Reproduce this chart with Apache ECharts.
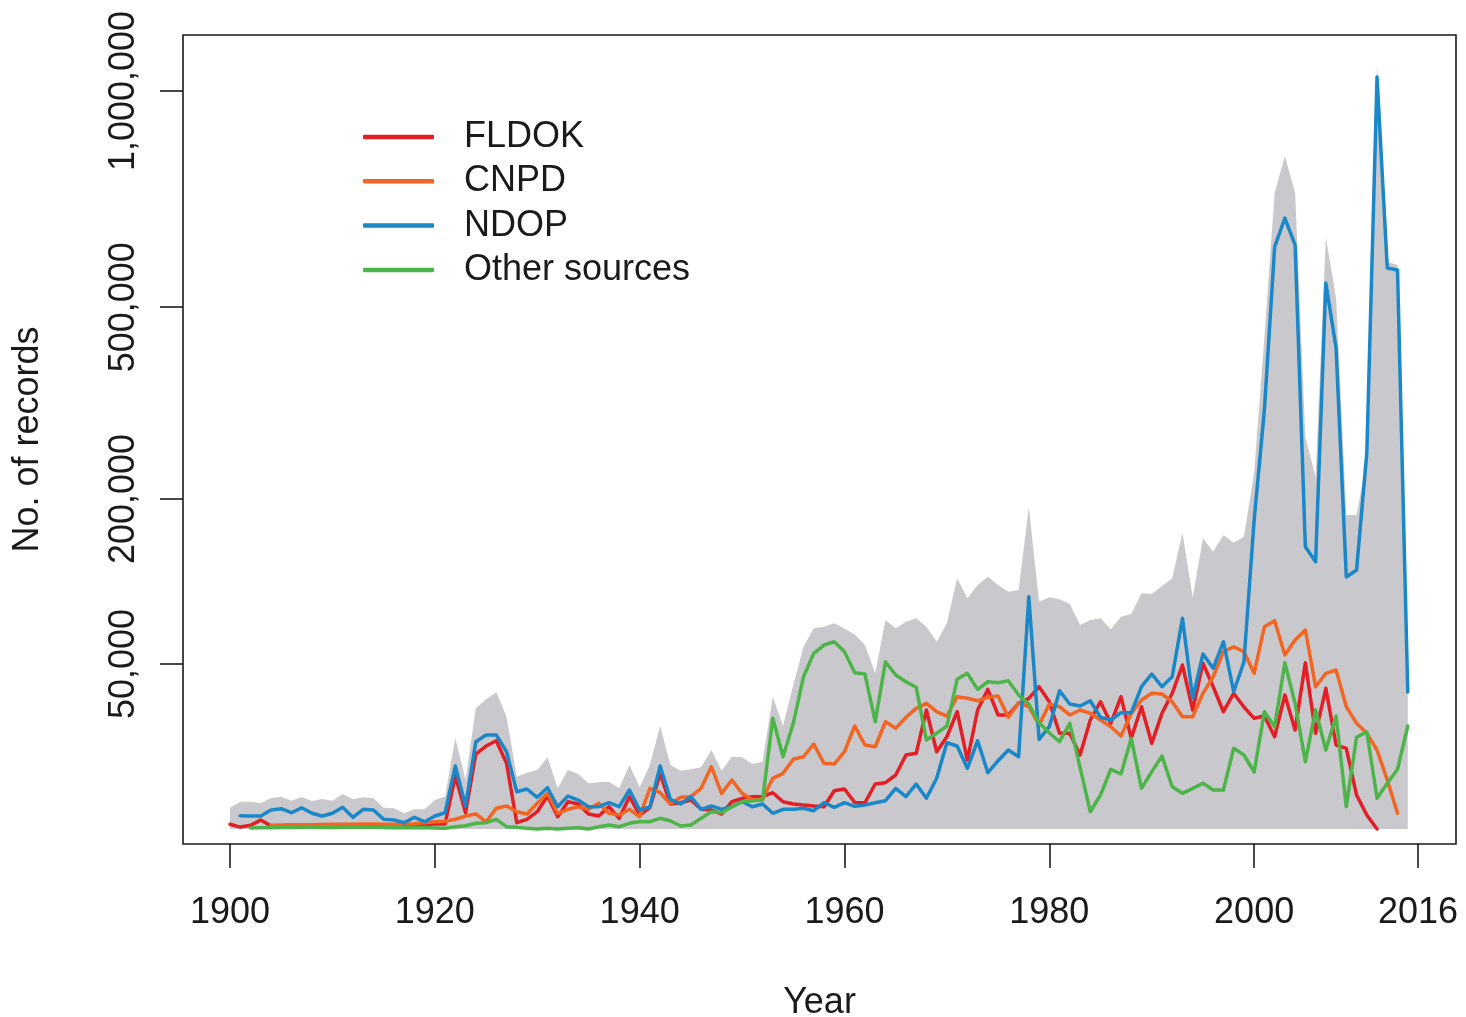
<!DOCTYPE html>
<html><head><meta charset="utf-8">
<script src="https://cdn.jsdelivr.net/npm/echarts@6/dist/echarts.min.js"></script>
<style>html,body{margin:0;padding:0;background:#fff}#c{width:1466px;height:1017px}</style>
</head><body><div id="c"></div>
<script>
const years = [1900,1901,1902,1903,1904,1905,1906,1907,1908,1909,1910,1911,1912,1913,1914,1915,1916,1917,1918,1919,
1920,1921,1922,1923,1924,1925,1926,1927,1928,1929,1930,1931,1932,1933,1934,1935,1936,1937,1938,1939,
1940,1941,1942,1943,1944,1945,1946,1947,1948,1949,1950,1951,1952,1953,1954,1955,1956,1957,1958,1959,
1960,1961,1962,1963,1964,1965,1966,1967,1968,1969,1970,1971,1972,1973,1974,1975,1976,1977,1978,1979,
1980,1981,1982,1983,1984,1985,1986,1987,1988,1989,1990,1991,1992,1993,1994,1995,1996,1997,1998,1999,
2000,2001,2002,2003,2004,2005,2006,2007,2008,2009,2010,2011,2012,2013,2014,2015];

const total = [833,1368,1368,1213,1764,1915,1470,1880,1439,1652,1470,2249,1619,1845,1730,833,787,453,713,713,
1544,1939,15204,4408,26747,30886,34309,23154,5022,5820,6391,9439,3041,6391,5554,3834,4004,4107,3041,7520,
3239,7520,19478,7520,6240,6544,6989,11458,6240,9597,9439,7757,8316,32136,19478,38071,61016,73955,75139,77685,
73660,69456,62160,44509,80198,73955,78899,81508,75139,64409,77685,115393,97716,109308,116871,109308,103387,104874,190009,94857,
98566,96871,92948,76407,80198,81508,73220,82750,84869,101997,101393,108414,115393,161190,98566,155153,141180,158696,150493,156866,
232687,444430,742655,831578,742655,282127,227488,643452,517680,181022,181022,249992,1071666,590254,584024,54316];

const fldok = [41,7,25,149,17,18,15,18,16,17,15,17,16,18,17,15,14,16,20,34,
50,45,5157,488,10328,12648,14315,7925,73,173,550,1999,278,1368,1148,413,310,913,210,1915,
360,849,5554,1148,1270,1544,713,663,413,1368,1730,1915,1915,2419,1368,1148,1058,971,913,2693,
2938,1289,1270,3718,3936,5354,10054,10521,26000,10971,15641,25262,8741,26000,35831,23861,23861,29010,31364,37178,
29753,16815,16815,10054,21814,29753,20512,32136,15104,27461,13484,24577,33808,49381,26000,50409,37178,25262,33808,27327,
22499,23444,15641,32967,17995,50777,16815,36346,12955,11957,2122,360,0,null,null,null];

const cnpd = [null,null,null,null,25,30,32,35,35,38,40,40,42,45,45,42,40,45,50,70,
100,110,173,310,413,98,787,971,550,413,1213,2340,453,713,913,713,1213,453,360,713,
278,3041,2419,1148,1845,1915,3041,7126,2340,4408,2340,1544,1619,4719,5696,8919,9597,13265,7925,7757,
10971,19478,12955,12436,21138,18618,22908,26747,29010,25262,23444,32136,31364,30222,31846,32477,22908,29288,27461,19858,
28688,27461,23861,26000,24577,21814,19214,15880,24577,30553,33808,33461,29753,23154,23154,33808,42586,57715,61016,57715,
44509,75139,79663,55587,65584,72708,37178,44509,46415,27461,20512,16815,11458,4408,453,null];

const ndop = [null,325,310,310,663,757,488,833,453,310,453,865,251,713,663,173,149,73,251,98,
310,488,7287,971,13993,16223,16223,10971,2554,2938,1845,3132,913,1999,1544,913,913,1270,913,2793,
663,889,7287,1619,1148,1915,713,971,713,913,1368,913,1148,453,713,713,787,615,1270,865,
1270,946,1058,1270,1470,3041,1915,3718,1730,4719,13674,12648,6764,14315,5820,8565,11458,9597,99077,14773,
19214,35117,28688,27777,30222,22908,21814,24834,24834,37178,44110,37178,42586,81508,31364,56228,47413,64409,34611,51204,
175303,322330,621897,685417,626179,146317,131180,547341,424779,116593,123161,259566,1038265,577828,573715,34460];

const other = [null,null,2,3,3,4,4,5,5,4,4,5,5,5,5,4,3,3,3,4,
2,1,10,20,60,73,173,10,5,1,0,1,0,1,3,0,10,29,10,60,
103,98,210,126,17,29,210,550,488,913,1368,1470,1544,22499,9597,20512,42586,56678,62160,64409,
57715,44852,44110,21138,51389,43543,39836,36865,14543,16815,19478,41144,44509,35831,39836,39297,40378,32967,28688,20746,
16920,13993,20512,6989,550,2122,6544,5554,15104,3041,6028,9784,3285,2340,3041,3834,2793,2793,11957,10054,
5965,25262,19214,50777,29010,8316,26000,11458,23444,913,15439,17382,1730,3834,6544,19478];

const xTicks = [1900,1920,1940,1960,1980,2000,2016];
const yTicks = [50000,200000,500000,1000000];

const FONT = '"Liberation Sans", Arial, Helvetica, sans-serif';
function pairs(vals){
  const out = [];
  vals.forEach((v,i)=>{ if (v !== null) out.push([years[i], Math.sqrt(v)]); });
  return out;
}
const yTickPos = yTicks.map(v => Math.sqrt(v));

function lineSeries(name, vals, color){
  return {type:'line', name:name, data:pairs(vals), symbol:'none', showSymbol:false,
    lineStyle:{color:color, width:3.5, cap:'round', join:'round'}, itemStyle:{color:color},
    z:3, silent:true, animation:false};
}

const chart = echarts.init(document.getElementById('c'), null, {renderer:'canvas'});
chart.setOption({
  animation:false,
  backgroundColor:'#ffffff',
  textStyle:{fontFamily:FONT},
  grid:{left:183, top:35, width:1273, height:809, show:true, borderColor:'#1a1a1a', borderWidth:1.6,
    backgroundColor:'transparent', containLabel:false, outerBoundsMode:'none'},
  legend:{
    orient:'vertical', left:363, top:117, padding:0, itemWidth:71, itemHeight:4.5, itemGap:4.3,
    icon:'roundRect',
    data:['FLDOK','CNPD','NDOP','Other sources'],
    textStyle:{fontSize:36, color:'#1a1a1a', fontFamily:FONT, lineHeight:40, padding:[0,0,0,25]},
    selectedMode:false
  },
  xAxis:{
    type:'value', min:1895.41, max:2019.71,
    splitLine:{show:false},
    axisLine:{show:false, onZero:false},
    axisTick:{show:true, length:24, customValues:xTicks, lineStyle:{color:'#1a1a1a', width:1.6}},
    axisLabel:{customValues:xTicks, fontSize:36, color:'#1a1a1a', fontFamily:FONT, margin:51, formatter:v=>String(v)},
    name:'Year', nameLocation:'middle', nameGap:141,
    nameTextStyle:{fontSize:36, color:'#1a1a1a', fontFamily:FONT}
  },
  yAxis:{
    type:'value', min:-20.3, max:1075.9,
    splitLine:{show:false},
    axisLine:{show:false, onZero:false},
    axisTick:{show:true, length:23, customValues:yTickPos, lineStyle:{color:'#1a1a1a', width:1.6}},
    axisLabel:{customValues:yTickPos, rotate:90, fontSize:36, color:'#1a1a1a', fontFamily:FONT, margin:41,
      formatter:v=>Math.round(v*v).toLocaleString('en-US')},
    name:'No. of records', nameLocation:'middle', nameGap:137,
    nameTextStyle:{fontSize:36, color:'#1a1a1a', fontFamily:FONT}
  },
  series:[
    {type:'line', name:'Total', data:pairs(total), symbol:'none', showSymbol:false,
      lineStyle:{width:0, opacity:0}, itemStyle:{color:'#c9c9cd'},
      areaStyle:{color:'#c9c9cd', opacity:1, origin:0}, z:1, silent:true},
    lineSeries('FLDOK', fldok, '#e31e25'),
    lineSeries('CNPD', cnpd, '#f26522'),
    lineSeries('NDOP', ndop, '#1a87c8'),
    lineSeries('Other sources', other, '#4cb448')
  ]
});
</script>
</body></html>
